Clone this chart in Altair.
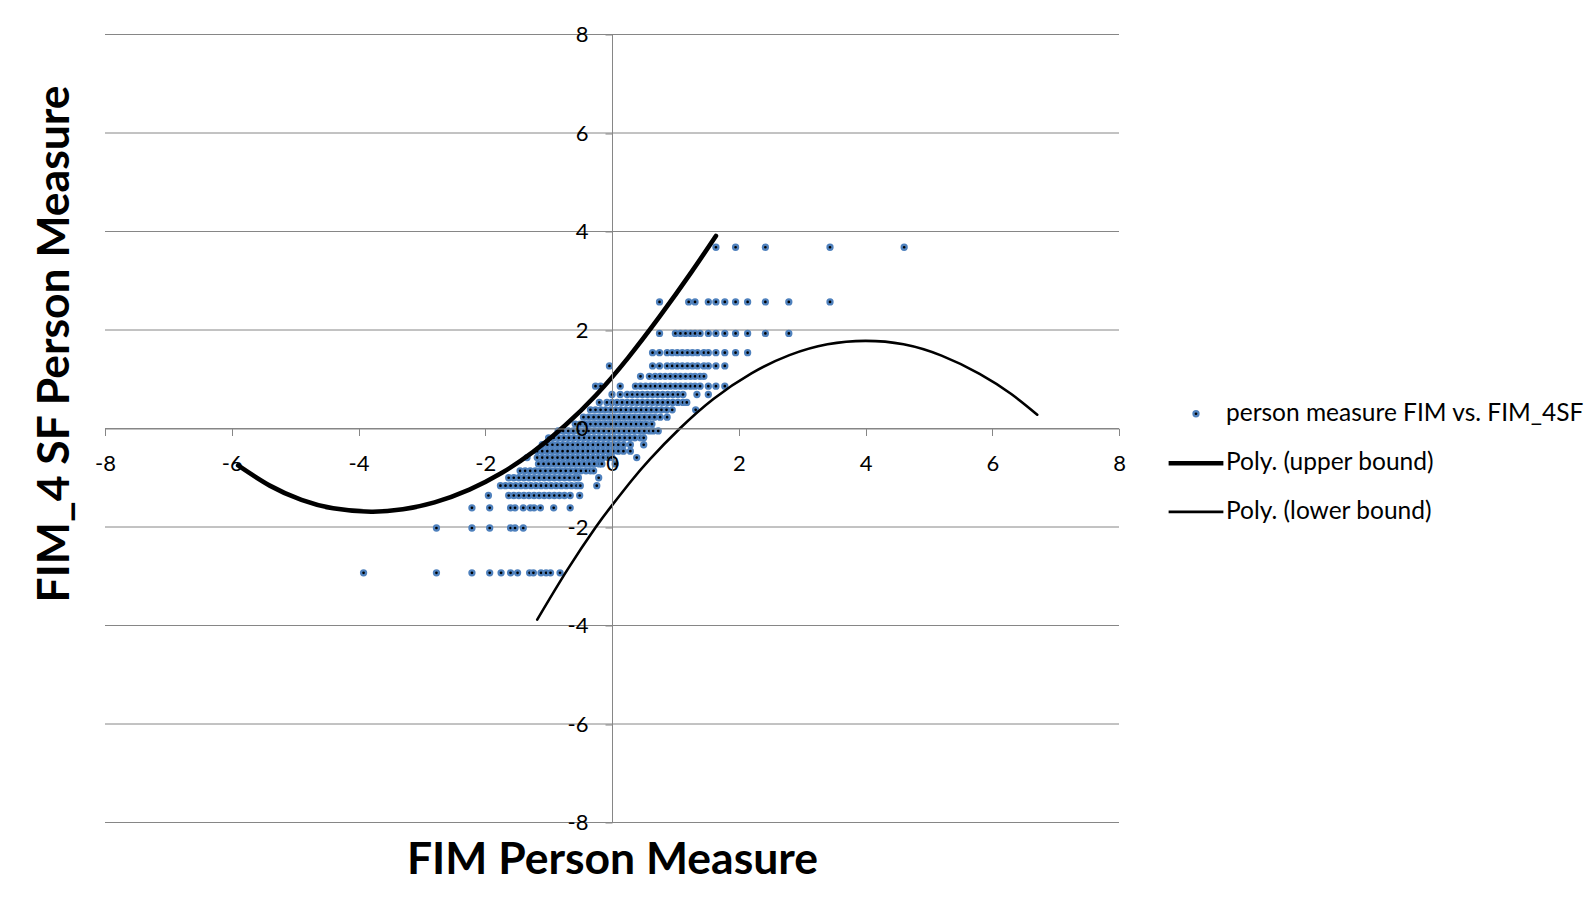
import altair as alt
import pandas as pd

# ---------------- data ----------------
x_ticks = [-8, -6, -4, -2, 0, 2, 4, 6, 8]
y_ticks = [-8, -6, -4, -2, 0, 2, 4, 6, 8]

series_names = ["person measure FIM vs. FIM_4SF", "Poly. (upper bound)", "Poly. (lower bound)"]

row_y = [3.68, 2.57, 1.93, 1.54, 1.27, 1.06, 0.86, 0.69, 0.53, 0.38, 0.23, 0.09,
         -0.05, -0.19, -0.33, -0.46, -0.59, -0.72, -0.86, -1.00, -1.16, -1.36,
         -1.61, -2.02, -2.93]
row_x = [
    [1.64, 1.95, 2.42, 3.44, 4.61],
    [0.75, 1.21, 1.31, 1.52, 1.64, 1.78, 1.95, 2.14, 2.42, 2.79, 3.44],
    [0.75, 1.00, 1.08, 1.16, 1.24, 1.31, 1.39, 1.52, 1.64, 1.78, 1.95, 2.14, 2.42, 2.79],
    [0.64, 0.75, 0.87, 0.95, 1.03, 1.11, 1.19, 1.27, 1.35, 1.45, 1.52, 1.64, 1.78, 1.95, 2.14],
    [-0.04, 0.64, 0.75, 0.87, 0.95, 1.03, 1.11, 1.19, 1.27, 1.35, 1.45, 1.52, 1.64, 1.78],
    [0.45, 0.59, 0.68, 0.76, 0.84, 0.92, 1.00, 1.08, 1.16, 1.24, 1.31, 1.39, 1.45],
    [-0.26, -0.18, 0.13, 0.37, 0.45, 0.53, 0.61, 0.68, 0.76, 0.84, 0.92, 1.00, 1.08, 1.16,
     1.24, 1.31, 1.39, 1.52, 1.64, 1.78],
    [0.00, 0.13, 0.24, 0.32, 0.40, 0.48, 0.56, 0.64, 0.72, 0.80, 0.88, 0.96, 1.04, 1.12,
     1.34, 1.52],
    [-0.20, -0.08, 0.00, 0.08, 0.16, 0.24, 0.32, 0.40, 0.48, 0.56, 0.64, 0.72, 0.80, 0.88,
     0.96, 1.04, 1.12, 1.18],
    [-0.34, -0.26, -0.18, -0.10, -0.02, 0.06, 0.14, 0.22, 0.30, 0.38, 0.46, 0.54, 0.62,
     0.70, 0.78, 0.86, 0.95, 1.32],
    [-0.45, -0.37, -0.29, -0.21, -0.13, -0.05, 0.03, 0.11, 0.19, 0.27, 0.35, 0.43, 0.51,
     0.59, 0.67, 0.76, 0.87],
    [-0.58, -0.50, -0.42, -0.34, -0.26, -0.18, -0.10, -0.02, 0.06, 0.14, 0.22, 0.30, 0.38,
     0.46, 0.54, 0.63],
    [-0.85, -0.77, -0.69, -0.61, -0.53, -0.45, -0.37, -0.29, -0.21, -0.13, -0.05, 0.03,
     0.11, 0.19, 0.27, 0.35, 0.43, 0.51, 0.59, 0.65, 0.73],
    [-1.00, -0.92, -0.84, -0.76, -0.68, -0.60, -0.52, -0.44, -0.36, -0.28, -0.20, -0.12,
     -0.04, 0.04, 0.12, 0.20, 0.28, 0.36, 0.45, 0.50],
    [-1.10, -1.02, -0.94, -0.86, -0.78, -0.70, -0.62, -0.54, -0.46, -0.38, -0.30, -0.22,
     -0.14, -0.06, 0.02, 0.10, 0.18, 0.29, 0.50],
    [-1.18, -1.10, -1.02, -0.94, -0.86, -0.78, -0.70, -0.62, -0.54, -0.46, -0.38, -0.30,
     -0.22, -0.14, -0.06, 0.02, 0.10, 0.18, 0.29],
    [-1.34, -1.18, -1.10, -1.02, -0.94, -0.86, -0.78, -0.70, -0.62, -0.54, -0.46, -0.38,
     -0.30, -0.22, -0.14, -0.06, 0.00, 0.39],
    [-1.16, -1.08, -1.00, -0.92, -0.84, -0.76, -0.68, -0.60, -0.52, -0.44, -0.36, -0.28,
     -0.20, -0.16, 0.05],
    [-1.45, -1.37, -1.29, -1.21, -1.13, -1.05, -0.97, -0.89, -0.81, -0.73, -0.65, -0.57,
     -0.49, -0.41, -0.34, -0.29],
    [-1.63, -1.55, -1.47, -1.39, -1.31, -1.23, -1.15, -1.07, -0.99, -0.91, -0.83, -0.75,
     -0.67, -0.59, -0.53, -0.21],
    [-1.76, -1.68, -1.60, -1.52, -1.44, -1.36, -1.28, -1.20, -1.12, -1.04, -0.96, -0.88,
     -0.80, -0.72, -0.64, -0.56, -0.50, -0.24],
    [-1.95, -1.63, -1.55, -1.47, -1.39, -1.31, -1.23, -1.15, -1.07, -0.99, -0.91, -0.83,
     -0.75, -0.66, -0.51],
    [-2.21, -1.93, -1.60, -1.53, -1.40, -1.29, -1.23, -1.13, -0.92, -0.66],
    [-2.77, -2.21, -1.93, -1.60, -1.53, -1.40],
    [-3.92, -2.77, -2.21, -1.93, -1.75, -1.60, -1.49, -1.30, -1.24, -1.12, -1.04, -0.97, -0.82],
]

# polynomial trend lines, read as points along each curve
upper_x = [-5.90, -5.40, -4.90, -4.40, -3.80, -3.30, -2.80, -2.25, -1.75, -1.25, -0.75,
           -0.25, 0.25, 0.75, 1.25, 1.64]
upper_y = [-0.75, -1.16, -1.45, -1.62, -1.69, -1.64, -1.50, -1.24, -0.91, -0.48, 0.05,
           0.68, 1.43, 2.27, 3.17, 3.91]
lower_x = [-1.18, -0.70, -0.26, 0.00, 0.30, 0.60, 1.07, 1.60, 2.20, 2.80, 3.40, 4.00,
           4.60, 5.20, 5.80, 6.30, 6.71]
lower_y = [-3.88, -2.86, -2.01, -1.56, -1.07, -0.62, 0.00, 0.60, 1.12, 1.49, 1.71, 1.78,
           1.71, 1.48, 1.11, 0.70, 0.28]

pts = pd.DataFrame(
    [{"fim": x, "sf": y, "series": series_names[0]} for y, xs in zip(row_y, row_x) for x in xs]
)
curves = pd.concat([
    pd.DataFrame({"fim": upper_x, "sf": upper_y, "series": series_names[1]}),
    pd.DataFrame({"fim": lower_x, "sf": lower_y, "series": series_names[2]}),
])
grid_df = pd.DataFrame({"fim": [0.0] * len(y_ticks), "sf": y_ticks})

# ---------------- styling ----------------
W, H = 1014, 788
GRAY = "#868686"
FONT = "Lato"

xscale = alt.Scale(domain=[-8, 8], nice=False, zero=False)
yscale = alt.Scale(domain=[-8, 8], nice=False, zero=False)

color_scale = alt.Scale(domain=series_names, range=["#4f81bd", "#000000", "#000000"])
shape_scale = alt.Scale(domain=series_names, range=["circle", "stroke", "stroke"])
sw_scale = alt.Scale(type="ordinal", domain=series_names, range=[2.3, 4.6, 2.6])
size_scale = alt.Scale(type="ordinal", domain=series_names, range=[25, 3000, 3000])

legend = alt.Legend(
    title=None, orient="none", legendX=1061, legendY=367,
    labelFont=FONT, labelFontSize=24.5, labelColor="black", labelLimit=800,
    labelOffset=0, padding=0, rowPadding=7.7, symbolFillColor="black",
)

x_axis = alt.Axis(
    values=x_ticks, offset=-H / 2, grid=False,
    domainColor=GRAY, domainWidth=1, tickColor=GRAY, tickWidth=1, tickSize=7,
    labelFont=FONT, labelFontSize=22, labelColor="black", labelPadding=18,
    labelFlush=False, labelOverlap=False, labelExpr="'' + datum.value",
    title="FIM Person Measure", titleFont=FONT, titleFontSize=44.5,
    titleFontWeight="bold", titleColor="black", titleBaseline="alphabetic",
    titleY=445, zindex=1,
)
y_axis = alt.Axis(
    values=y_ticks, offset=-W / 2, grid=False,
    domainColor=GRAY, domainWidth=1, tickColor=GRAY, tickWidth=1, tickSize=7,
    labelFont=FONT, labelFontSize=22, labelColor="black", labelPadding=17,
    labelOverlap=False, labelFlush=False, labelExpr="'' + datum.value",
    title="FIM_4 SF Person Measure", titleFont=FONT, titleFontSize=44.5,
    titleFontWeight="bold", titleColor="black", titleAngle=270,
    titleBaseline="alphabetic", titleX=-544, titleY=309, zindex=1,
)

X = alt.X("fim:Q", scale=xscale, axis=x_axis)
Y = alt.Y("sf:Q", scale=yscale, axis=y_axis)

grid = alt.Chart(grid_df).mark_rule(color=GRAY, strokeWidth=1).encode(
    y=Y, x=alt.value(0), x2=alt.value(W)
)

points = alt.Chart(pts).mark_point(filled=False, fill="black", opacity=1).encode(
    x=X, y=Y,
    color=alt.Color("series:N", scale=color_scale, legend=legend),
    shape=alt.Shape("series:N", scale=shape_scale),
    strokeWidth=alt.StrokeWidth("series:N", scale=sw_scale),
    size=alt.Size("series:N", scale=size_scale),
)

lines = alt.Chart(curves).mark_line(interpolate="natural", strokeCap="round").encode(
    x=X, y=Y,
    color=alt.Color("series:N", scale=color_scale, legend=legend),
    strokeWidth=alt.StrokeWidth("series:N", scale=sw_scale),
)

chart = (
    alt.layer(grid, points, lines)
    .properties(
        width=W, height=H,
        autosize=alt.AutoSizeParams(type="none"),
        padding={"left": 97, "top": 26.5, "right": 469, "bottom": 80},
        background="white",
    )
    .configure_view(strokeWidth=0)
)

chart.save("out.html", embed_options={"renderer": "svg", "actions": False})
